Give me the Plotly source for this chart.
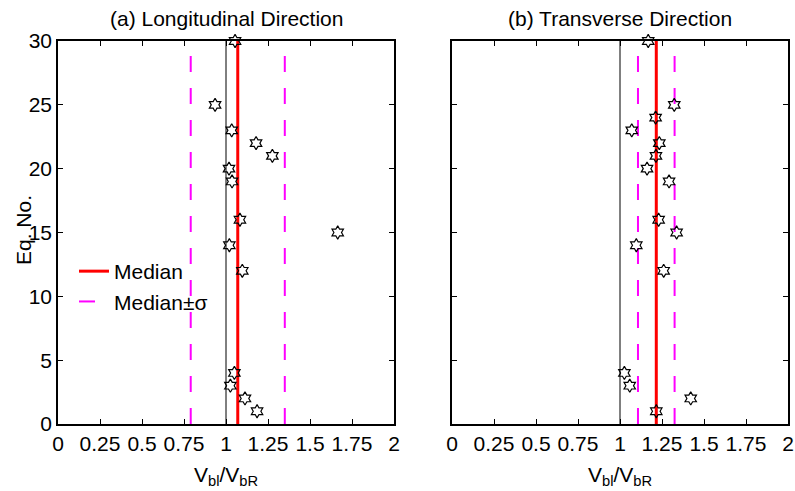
import plotly.graph_objects as go

# Data
eq_long = [1, 2, 3, 4, 12, 14, 15, 16, 19, 20, 21, 22, 23, 25, 30]
ratio_long = [1.185, 1.113, 1.026, 1.05, 1.097, 1.02, 1.665, 1.083, 1.036, 1.018, 1.276, 1.179, 1.034, 0.935, 1.054]
median_long = 1.07
sigma_long = 0.28

eq_trans = [1, 2, 3, 4, 12, 14, 15, 16, 19, 20, 21, 22, 23, 24, 25, 30]
ratio_trans = [1.216, 1.421, 1.058, 1.026, 1.26, 1.097, 1.337, 1.23, 1.292, 1.161, 1.214, 1.234, 1.07, 1.212, 1.323, 1.168]
median_trans = 1.216
sigma_trans = 0.109

x_ticks = [0, 0.25, 0.5, 0.75, 1, 1.25, 1.5, 1.75, 2]
x_ticklabels = ["0", "0.25", "0.5", "0.75", "1", "1.25", "1.5", "1.75", "2"]
y_ticks = [0, 5, 10, 15, 20, 25, 30]
titles = ["(a) Longitudinal Direction", "(b) Transverse Direction"]
x_title = "V<sub>bl</sub>/V<sub>bR</sub>"
y_title = "Eq. No."

FONT = "Liberation Sans, Arial, sans-serif"
FS = 21
W, H = 795, 491
L, R, T, B = 58, 7, 41, 67
PW = W - L - R

fig = go.Figure()

panels = [
    ("x", "y", eq_long, ratio_long, median_long, sigma_long, True),
    ("x2", "y2", eq_trans, ratio_trans, median_trans, sigma_trans, False),
]
for xa, ya, eq, r, med, sig, show in panels:
    fig.add_trace(go.Scatter(x=[1, 1], y=[0, 30], mode="lines",
                             line=dict(color="black", width=1),
                             xaxis=xa, yaxis=ya, showlegend=False, hoverinfo="skip"))
    fig.add_trace(go.Scatter(x=[med, med], y=[0, 30], mode="lines",
                             line=dict(color="#ff0000", width=3),
                             xaxis=xa, yaxis=ya, name="Median", showlegend=show))
    fig.add_trace(go.Scatter(x=[med - sig, med - sig], y=[0, 30], mode="lines",
                             line=dict(color="#ff00ff", width=2, dash="16px,16px"),
                             xaxis=xa, yaxis=ya, name="Median\u00b1\u03c3", showlegend=show))
    fig.add_trace(go.Scatter(x=[med + sig, med + sig], y=[0, 30], mode="lines",
                             line=dict(color="#ff00ff", width=2, dash="16px,16px"),
                             xaxis=xa, yaxis=ya, showlegend=False))
    fig.add_trace(go.Scatter(x=r, y=eq, mode="markers",
                             marker=dict(symbol="hexagram-open", size=10,
                                         color="black", line=dict(width=1.2, color="black")),
                             xaxis=xa, yaxis=ya, showlegend=False, cliponaxis=False))

axis_common = dict(showline=True, linecolor="black", linewidth=1.5, mirror="ticks",
                   ticks="inside", ticklen=5, tickcolor="black", showgrid=False,
                   zeroline=False, automargin=False,
                   tickfont=dict(family=FONT, size=FS, color="black"))

left_dom = [0, 336 / PW]
right_dom = [(452 - L) / PW, 1]

fig.update_layout(
    width=W, height=H,
    margin=dict(l=L, r=R, t=T, b=B),
    plot_bgcolor="white", paper_bgcolor="white",
    font=dict(family=FONT, size=FS, color="black"),
    xaxis=dict(domain=left_dom, range=[0, 2], tickvals=x_ticks, ticktext=x_ticklabels,
               anchor="y", **axis_common),
    yaxis=dict(domain=[0, 1], range=[0, 30], tickvals=y_ticks, anchor="x", **axis_common),
    xaxis2=dict(domain=right_dom, range=[0, 2], tickvals=x_ticks, ticktext=x_ticklabels,
                anchor="y2", **axis_common),
    yaxis2=dict(domain=[0, 1], range=[0, 30], tickvals=y_ticks,
                showticklabels=False, anchor="x2", **axis_common),
    legend=dict(x=(74 - L) / PW, y=1 - (251 - T) / (H - T - B), xanchor="left", yanchor="top",
                bgcolor="rgba(0,0,0,0)", borderwidth=0,
                font=dict(family=FONT, size=FS, color="black"), tracegroupgap=0),
    showlegend=True,
)

def px_x(p):
    return (p - L) / PW

def px_y(p):
    return 1 - (p - T) / (H - T - B)

centers = [px_x((58 + 394) / 2), px_x((452 + 788) / 2)]
for c, t in zip(centers, titles):
    fig.add_annotation(text=t, x=c, y=px_y(18), xref="paper", yref="paper",
                       showarrow=False, xanchor="center", yanchor="middle",
                       font=dict(family=FONT, size=FS, color="black"))
    fig.add_annotation(text=x_title, x=c, y=px_y(476), xref="paper", yref="paper",
                       showarrow=False, xanchor="center", yanchor="middle",
                       font=dict(family=FONT, size=FS, color="black"))

fig.add_annotation(text=y_title, x=px_x(23), y=px_y(230), xref="paper", yref="paper",
                   showarrow=False, xanchor="center", yanchor="middle", textangle=-90,
                   font=dict(family=FONT, size=FS, color="black"))

fig.write_html("out.html")
